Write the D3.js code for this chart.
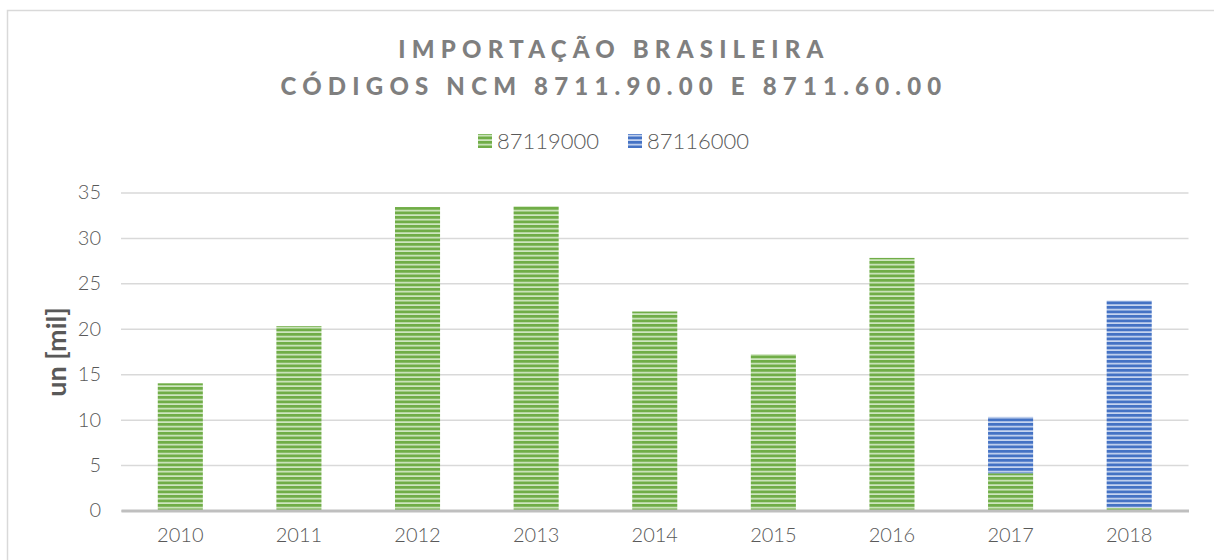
<!DOCTYPE html>
<html>
<head>
<meta charset="utf-8">
<script src="https://cdn.jsdelivr.net/npm/d3@7"></script>
<style>
  body { margin: 0; background: #fff; }
  #chart { width: 1214px; height: 560px; }
  text { font-family: Lato, "Open Sans", sans-serif; }
</style>
</head>
<body>
<div id="chart"></div>
<script>
const years = ["2010", "2011", "2012", "2013", "2014", "2015", "2016", "2017", "2018"];
const seriesNames = ["87119000", "87116000"];
const values87119000 = [14.0, 20.3, 33.4, 33.5, 21.9, 17.2, 27.8, 4.1, 0.3];
const values87116000 = [0, 0, 0, 0, 0, 0, 0, 6.2, 22.8];
const yTicks = [0, 5, 10, 15, 20, 25, 30, 35];

const width = 1214, height = 560;
const margin = {top: 192.5, right: 26, bottom: 49.5, left: 121};
const colors = {"87119000": "#70ad47", "87116000": "#4472c4"};
const lightColors = {"87119000": "#cfe6c0", "87116000": "#c6d5ef"};

const svg = d3.select("#chart").append("svg")
  .attr("width", width)
  .attr("height", height);

// stripe patterns
const defs = svg.append("defs");
seriesNames.forEach((s, i) => {
  const p = defs.append("pattern")
    .attr("id", "pat" + i)
    .attr("patternUnits", "userSpaceOnUse")
    .attr("width", 8)
    .attr("height", 4.5);
  p.append("rect").attr("width", 8).attr("height", 4.5).attr("fill", lightColors[s]);
  p.append("rect").attr("width", 8).attr("height", 2.8).attr("fill", colors[s]);
});

// chart frame
svg.append("rect")
  .attr("x", 7.5).attr("y", 10.5)
  .attr("width", 1300).attr("height", 700)
  .attr("fill", "none")
  .attr("stroke", "#d9d9d9")
  .attr("stroke-width", 1.5);

const x = d3.scaleBand()
  .domain(years)
  .range([margin.left, width - margin.right + 0.5])
  .paddingInner(0.62)
  .paddingOuter(0.31);

const y = d3.scaleLinear()
  .domain([0, 35])
  .range([height - margin.bottom, margin.top]);

// grid lines
svg.append("g")
  .attr("class", "grid")
  .attr("transform", "translate(" + margin.left + ",0)")
  .call(d3.axisLeft(y).tickValues(yTicks).tickSize(-(width - margin.right + 0.5 - margin.left)).tickFormat(""))
  .call(g => g.select(".domain").remove())
  .call(g => g.selectAll(".tick line").attr("stroke", "#d9d9d9").attr("stroke-width", 1.5));

// y tick labels
svg.append("g")
  .attr("transform", "translate(" + (margin.left - 20) + ",0)")
  .call(d3.axisLeft(y).tickValues(yTicks).tickSize(0).tickPadding(0))
  .call(g => g.select(".domain").remove())
  .call(g => g.selectAll("text")
    .attr("fill", "#595959")
    .style("font-size", "20px")
    .style("font-weight", "300")
    .style("font-family", "Lato, 'Open Sans', sans-serif"));

// stacked bars
const table = years.map((yr, i) => ({year: yr, "87119000": values87119000[i], "87116000": values87116000[i]}));
const stacked = d3.stack().keys(seriesNames)(table);

svg.append("g").selectAll("g")
  .data(stacked)
  .join("g")
  .attr("fill", (d, i) => "url(#pat" + i + ")")
  .selectAll("rect")
  .data(d => d.filter(v => v[1] - v[0] > 0))
  .join("rect")
  .attr("x", d => x(d.data.year))
  .attr("y", d => y(d[1]))
  .attr("width", x.bandwidth())
  .attr("height", d => y(d[0]) - y(d[1]));

// x axis
svg.append("g")
  .attr("transform", "translate(0," + (height - margin.bottom) + ")")
  .call(d3.axisBottom(x).tickSize(0).tickPadding(17))
  .call(g => g.select(".domain").attr("stroke", "#bfbfbf").attr("stroke-width", 3))
  .call(g => g.selectAll("text")
    .attr("fill", "#595959")
    .style("font-size", "20px")
    .style("font-weight", "300")
    .style("font-family", "Lato, 'Open Sans', sans-serif"));

// y axis title
svg.append("text")
  .attr("transform", "translate(66,352) rotate(-90)")
  .attr("text-anchor", "middle")
  .attr("fill", "#595959")
  .style("font-size", "27px")
  .style("font-weight", "bold")
  .text("un [mil]");

// title
const title = svg.append("text")
  .attr("text-anchor", "middle")
  .attr("fill", "#7f7f7f")
  .style("font-size", "24px")
  .style("font-weight", "900")
  .style("letter-spacing", "6.2px");
title.append("tspan").attr("x", 614).attr("y", 58).text("IMPORTAÇÃO BRASILEIRA");
title.append("tspan").attr("x", 614).attr("y", 95).text("CÓDIGOS NCM 8711.90.00 E 8711.60.00");

// legend
const legend = svg.append("g").attr("transform", "translate(478,141)");
const legendX = [0, 150];
seriesNames.forEach((s, i) => {
  const g = legend.append("g").attr("transform", "translate(" + legendX[i] + ",0)");
  g.append("rect")
    .attr("x", 0).attr("y", -7)
    .attr("width", 14).attr("height", 14)
    .attr("fill", "url(#pat" + i + ")");
  g.append("text")
    .attr("x", 19).attr("y", 0)
    .attr("dy", "0.35em")
    .attr("fill", "#595959")
    .style("font-size", "22px")
    .style("font-weight", "300")
    .text(s);
});
</script>
</body>
</html>
